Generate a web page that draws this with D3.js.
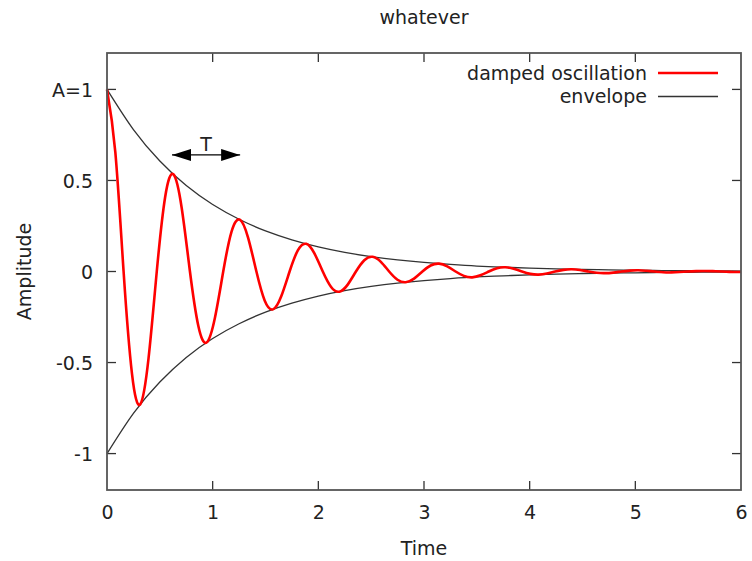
<!DOCTYPE html>
<html>
<head>
<meta charset="utf-8">
<script src="https://cdn.jsdelivr.net/npm/d3@7"></script>
<style>
    body { margin: 0; background: #fff; }
    text { font-family: "DejaVu Sans", sans-serif; fill: #222; }
</style>
</head>
<body>
<div id="chart"></div>
<script>
// damped oscillation chart
//=========================

// time samples (~1/8 period apart)
var times = [0, 0.079, 0.157, 0.236, 0.314, 0.393, 0.471, 0.550, 0.628, 0.707,
    0.785, 0.864, 0.942, 1.021, 1.100, 1.178, 1.257, 1.335, 1.414, 1.492,
    1.571, 1.649, 1.728, 1.806, 1.885, 1.963, 2.042, 2.121, 2.199, 2.278,
    2.356, 2.435, 2.513, 2.592, 2.670, 2.749, 2.827, 2.906, 2.985, 3.063,
    3.142, 3.220, 3.299, 3.377, 3.456, 3.534, 3.613, 3.691, 3.770, 3.848,
    3.927, 4.006, 4.084, 4.163, 4.241, 4.320, 4.398, 4.477, 4.555, 4.634,
    4.712, 4.791, 4.869, 4.948, 5.027, 5.105, 5.184, 5.262, 5.341, 5.419,
    5.498, 5.576, 5.655, 5.733, 5.812, 5.890, 5.969, 6.0];

var oscillation = [1.000, 0.654, 0, -0.559, -0.730, -0.477, 0, 0.408, 0.534, 0.349,
    0, -0.298, -0.390, -0.255, 0, 0.218, 0.285, 0.186, 0, -0.159,
    -0.208, -0.136, 0, 0.116, 0.152, 0.099, 0, -0.085, -0.111, -0.072,
    0, 0.062, 0.081, 0.053, 0, -0.045, -0.059, -0.039, 0, 0.033,
    0.043, 0.028, 0, -0.024, -0.032, -0.021, 0, 0.018, 0.023, 0.015,
    0, -0.013, -0.017, -0.011, 0, 0.009, 0.012, 0.008, 0, -0.007,
    -0.009, -0.006, 0, 0.005, 0.007, 0.004, 0, -0.004, -0.005, -0.003,
    0, 0.002, 0.003, 0.002, 0, -0.002, -0.003, -0.002];

// envelope samples
var envTimes = [0, 0.25, 0.5, 0.75, 1, 1.25, 1.5, 1.75, 2, 2.25, 2.5, 2.75, 3,
    3.25, 3.5, 3.75, 4, 4.25, 4.5, 4.75, 5, 5.25, 5.5, 5.75, 6];
var envelope = [1, 0.779, 0.607, 0.472, 0.368, 0.287, 0.223, 0.174, 0.135, 0.105,
    0.082, 0.064, 0.050, 0.039, 0.030, 0.024, 0.018, 0.014, 0.011, 0.009,
    0.007, 0.005, 0.004, 0.003, 0.0025];

// ticks
var xTicks = [0, 1, 2, 3, 4, 5, 6];
var yTicks = [1, 0.5, 0, -0.5, -1];
var yTickLabels = ["A=1", "0.5", "0", "-0.5", "-1"];

// period marker
var periodStart = 0.615;
var periodEnd = 1.26;
var periodLevel = 0.64;

var svgWidth = 752;
var svgHeight = 561;

var margin = { top: 53, right: 11, bottom: 71, left: 107 };
var width = svgWidth - margin.left - margin.right;
var height = svgHeight - margin.top - margin.bottom;

var fontSize = 19;

var svg = d3.select("#chart")
    .append("svg")
    .attr("width", svgWidth)
    .attr("height", svgHeight);

var chartGroup = svg.append("g")
    .attr("transform", `translate(${margin.left}, ${margin.top})`);

var xScale = d3.scaleLinear().domain([0, 6]).range([0, width]);
var yScale = d3.scaleLinear().domain([-1.2, 1.2]).range([height, 0]);

// axes - gnuplot style, ticks inward and mirrored
var tickLen = 9;
var frameColor = "#555";

var bottomAxis = d3.axisBottom(xScale).tickValues(xTicks).tickSize(0).tickPadding(16)
    .tickFormat(d3.format("d"));
var leftAxis = d3.axisLeft(yScale).tickValues(yTicks).tickSize(0).tickPadding(14)
    .tickFormat((d, i) => yTickLabels[i]);

var xAxisG = chartGroup.append("g")
    .attr("transform", `translate(0, ${height})`)
    .call(bottomAxis);
var yAxisG = chartGroup.append("g").call(leftAxis);

[xAxisG, yAxisG].forEach(function (g) {
    g.select(".domain").remove();
    g.selectAll("text")
        .style("font-family", "'DejaVu Sans', sans-serif")
        .style("font-size", fontSize + "px")
        .attr("fill", "#222");
});
yAxisG.selectAll("text").attr("dy", "0.36em");

// inward tick marks
var tickG = chartGroup.append("g")
    .attr("stroke", "#333")
    .attr("stroke-width", 1.3);

xTicks.slice(1, -1).forEach(function (t) {
    tickG.append("line")
        .attr("x1", xScale(t)).attr("x2", xScale(t))
        .attr("y1", height).attr("y2", height - tickLen);
    tickG.append("line")
        .attr("x1", xScale(t)).attr("x2", xScale(t))
        .attr("y1", 0).attr("y2", tickLen);
});
yTicks.forEach(function (t) {
    tickG.append("line")
        .attr("x1", 0).attr("x2", tickLen)
        .attr("y1", yScale(t)).attr("y2", yScale(t));
    tickG.append("line")
        .attr("x1", width).attr("x2", width - tickLen)
        .attr("y1", yScale(t)).attr("y2", yScale(t));
});

// curves
var oscData = times.map((t, i) => ({ t: t, v: oscillation[i] }));
var envData = envTimes.map((t, i) => ({ t: t, v: envelope[i] }));

var line = d3.line()
    .x(d => xScale(d.t))
    .y(d => yScale(d.v))
    .curve(d3.curveNatural);

chartGroup.append("path")
    .datum(envData)
    .attr("d", line)
    .attr("fill", "none")
    .attr("stroke", "#333")
    .attr("stroke-width", 1.3);

chartGroup.append("path")
    .datum(envData.map(d => ({ t: d.t, v: -d.v })))
    .attr("d", line)
    .attr("fill", "none")
    .attr("stroke", "#333")
    .attr("stroke-width", 1.3);

chartGroup.append("path")
    .datum(oscData)
    .attr("d", line)
    .attr("fill", "none")
    .attr("stroke", "#ff0000")
    .attr("stroke-width", 2.6)
    .attr("stroke-linejoin", "round");

// frame
chartGroup.append("rect")
    .attr("x", 0).attr("y", 0)
    .attr("width", width).attr("height", height)
    .attr("fill", "none")
    .attr("stroke", frameColor)
    .attr("stroke-width", 1.8);

// period arrow
var defs = svg.append("defs");
defs.append("marker")
    .attr("id", "head")
    .attr("viewBox", "0 0 19 12")
    .attr("refX", 19).attr("refY", 6)
    .attr("markerWidth", 19).attr("markerHeight", 12)
    .attr("markerUnits", "userSpaceOnUse")
    .attr("orient", "auto-start-reverse")
    .append("path")
    .attr("d", "M0,0 L19,6 L0,12 Z")
    .attr("fill", "#000");

chartGroup.append("line")
    .attr("x1", xScale(periodStart)).attr("x2", xScale(periodEnd))
    .attr("y1", yScale(periodLevel)).attr("y2", yScale(periodLevel))
    .attr("stroke", "#000")
    .attr("stroke-width", 1.3)
    .attr("marker-start", "url(#head)")
    .attr("marker-end", "url(#head)");

chartGroup.append("text")
    .attr("x", (xScale(periodStart) + xScale(periodEnd)) / 2)
    .attr("y", yScale(periodLevel) - 4)
    .attr("text-anchor", "middle")
    .style("font-size", fontSize + "px")
    .text("T");

// legend
var legend = [
    { label: "damped oscillation", color: "#ff0000", w: 2.6 },
    { label: "envelope", color: "#333", w: 1.3 }
];
legend.forEach(function (d, i) {
    var y = 20 + i * 23.5;
    chartGroup.append("text")
        .attr("x", 540)
        .attr("y", y)
        .attr("dy", "0.36em")
        .attr("text-anchor", "end")
        .style("font-size", fontSize + "px")
        .text(d.label);
    chartGroup.append("line")
        .attr("x1", 551).attr("x2", 611)
        .attr("y1", y).attr("y2", y)
        .attr("stroke", d.color)
        .attr("stroke-width", d.w);
});

// title and axis labels
svg.append("text")
    .attr("x", margin.left + width / 2)
    .attr("y", 24)
    .attr("text-anchor", "middle")
    .style("font-size", fontSize + "px")
    .text("whatever");

svg.append("text")
    .attr("x", margin.left + width / 2)
    .attr("y", 555)
    .attr("text-anchor", "middle")
    .style("font-size", fontSize + "px")
    .text("Time");

svg.append("text")
    .attr("transform", `translate(31, ${margin.top + yScale(0)}) rotate(-90)`)
    .attr("text-anchor", "middle")
    .style("font-size", fontSize + "px")
    .text("Amplitude");
</script>
</body>
</html>
